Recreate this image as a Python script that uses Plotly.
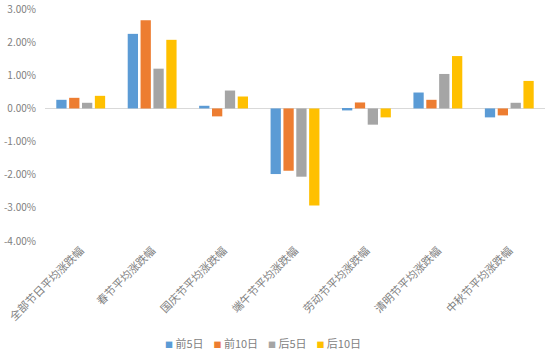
import plotly.graph_objects as go

categories = ["全部节日平均涨跌幅", "春节平均涨跌幅", "国庆节平均涨跌幅", "端午节平均涨跌幅",
              "劳动节平均涨跌幅", "清明节平均涨跌幅", "中秋节平均涨跌幅"]
series_names = ["前5日", "前10日", "后5日", "后10日"]
pre5 = [0.26, 2.25, 0.08, -1.98, -0.06, 0.48, -0.27]
pre10 = [0.32, 2.66, -0.24, -1.88, 0.18, 0.26, -0.21]
post5 = [0.17, 1.20, 0.54, -2.06, -0.49, 1.04, 0.17]
post10 = [0.38, 2.07, 0.36, -2.93, -0.27, 1.58, 0.83]
colors = ["#5B9BD5", "#ED7D31", "#A5A5A5", "#FFC000"]
tick_vals = [3, 2, 1, 0, -1, -2, -3, -4]
tick_text = ["3.00%", "2.00%", "1.00%", "0.00%", "-1.00%", "-2.00%", "-3.00%", "-4.00%"]

fig = go.Figure()
for name, vals, c in zip(series_names, [pre5, pre10, post5, post10], colors):
    fig.add_trace(go.Bar(x=categories, y=vals, name=name, marker_color=c,
                         marker_line_width=0, showlegend=False))

# compact legend drawn as text
legend_html = "&nbsp;&nbsp;&nbsp;&nbsp;".join(
    f"<span style='color:{c};font-size:8px'>■</span>&nbsp;{n}" for n, c in zip(series_names, colors))
fig.add_annotation(text=legend_html, xref="paper", yref="paper", x=(263 - 45) / 500,
                   y=-(343 - 241) / 232, xanchor="center", yanchor="middle", showarrow=False,
                   font=dict(size=11, color="#7F7F7F", family="Noto Sans CJK SC"))

font = "Noto Sans CJK SC"
fig.update_layout(
    width=550, height=353,
    margin=dict(l=45, r=5, t=9, b=112),
    paper_bgcolor="white", plot_bgcolor="white",
    barmode="group", bargap=0.28, bargroupgap=0.2,
    font=dict(family=font, size=10, color="#7F7F7F"),
    showlegend=False,
    xaxis=dict(tickangle=-45, showline=False, ticks="", showgrid=False, automargin=False,
               tickfont=dict(size=11, color="#808080")),
    yaxis=dict(range=[-4, 3], tickvals=tick_vals, ticktext=tick_text, showgrid=False,
               automargin=False, ticklabelstandoff=8,
               zeroline=True, zerolinecolor="#D9D9D9", zerolinewidth=1,
               tickfont=dict(size=10, color="#808080"), ticks="", showline=False),
)
fig.write_html("out.html")
